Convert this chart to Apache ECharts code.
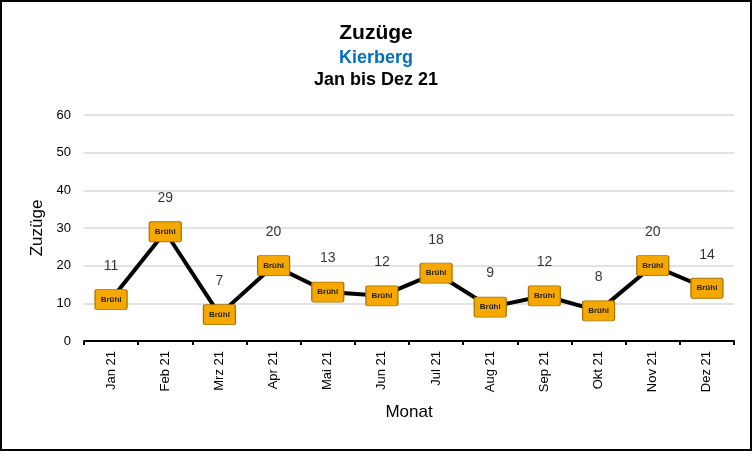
<!DOCTYPE html>
<html><head><meta charset="utf-8">
<script src="https://cdn.jsdelivr.net/npm/echarts@6/dist/echarts.min.js"></script>
<style>
html,body{margin:0;padding:0;background:#fff;}
#c{width:748px;height:447px;border:2px solid #000;}
</style></head>
<body><div id="c"></div>
<script>
const categories = ['Jan 21','Feb 21','Mrz 21','Apr 21','Mai 21','Jun 21','Jul 21','Aug 21','Sep 21','Okt 21','Nov 21','Dez 21'];
const values = [11,29,7,20,13,12,18,9,12,8,20,14];
const markerText = 'Brühl';
const yTicks = {min:0, max:60, interval:10};

const chart = echarts.init(document.getElementById('c'));
const F = 'Arial, "Liberation Sans", sans-serif';
const markerPath = 'path://M2,0H30Q32,0 32,2V18Q32,20 30,20H2Q0,20 0,18V2Q0,0 2,0Z';
chart.setOption({
  animation:false,
  title:[
    {text:'Zuzüge', left:'center', top:16, textStyle:{fontFamily:F, fontSize:21, fontWeight:'bold', color:'#000'}},
    {text:'Kierberg', left:'center', top:42, textStyle:{fontFamily:F, fontSize:18, fontWeight:'bold', color:'#0070C0'}},
    {text:'Jan bis Dez 21', left:'center', top:64, textStyle:{fontFamily:F, fontSize:18, fontWeight:'bold', color:'#000'}}
  ],
  grid:{left:82, right:16, top:113, bottom:108},
  xAxis:{
    type:'category', data:categories, boundaryGap:true,
    name:'Monat', nameLocation:'middle', nameGap:63,
    nameTextStyle:{fontFamily:F, fontSize:17, color:'#000'},
    axisLine:{lineStyle:{color:'#000', width:2}},
    axisTick:{show:true, lineStyle:{color:'#000', width:2}, length:4},
    axisLabel:{rotate:90, fontFamily:F, fontSize:13, color:'#000', margin:10}
  },
  yAxis:{
    type:'value', min:yTicks.min, max:yTicks.max, interval:yTicks.interval,
    name:'Zuzüge', nameLocation:'middle', nameGap:36, nameRotate:90,
    nameTextStyle:{fontFamily:F, fontSize:17, color:'#000'},
    axisLine:{show:false}, axisTick:{show:false},
    axisLabel:{fontFamily:F, fontSize:13, color:'#000', margin:13},
    splitLine:{lineStyle:{color:'#d9d9d9', width:1.5}}
  },
  series:[
    {
      type:'line', data:values, symbol:markerPath, symbolSize:[32,20], symbolKeepAspect:false,
      lineStyle:{color:'#000', width:4},
      itemStyle:{color:'#F5A800', borderColor:'#A87400', borderWidth:1},
      label:{show:true, position:'inside', formatter:markerText, fontFamily:F, fontSize:8, fontWeight:'bold', color:'#222'},
      z:3
    },
    {
      type:'scatter', data:values, symbolSize:1, itemStyle:{color:'rgba(0,0,0,0)'},
      label:{show:true, position:'top', distance:26, fontFamily:F, fontSize:14, color:'#000'},
      silent:true, z:4
    }
  ]
});
</script></body></html>
